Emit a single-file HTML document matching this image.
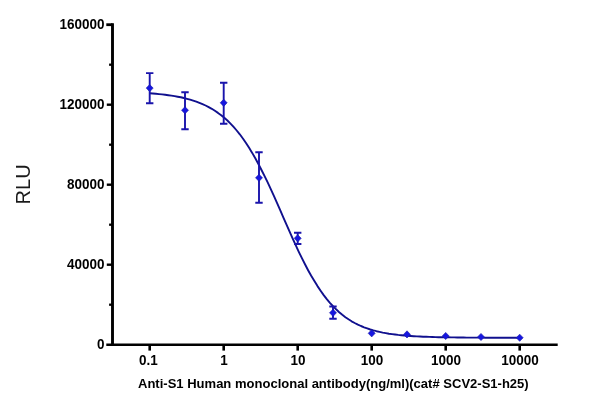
<!DOCTYPE html>
<html><head><meta charset="utf-8"><title>chart</title>
<style>
html,body{margin:0;padding:0;background:#fff;}
svg{display:block;}
text{font-family:"Liberation Sans",Arial,sans-serif;font-weight:bold;font-size:13.5px;fill:#000;}
</style></head><body>
<svg width="600" height="408" viewBox="0 0 600 408">
<rect width="600" height="408" fill="#fff"/>
<path d="M112.5,23.3 V346.1" stroke="#000" stroke-width="2.9" fill="none"/>
<path d="M106.3,344.8 H557.7" stroke="#000" stroke-width="2.5" fill="none"/>
<text transform="translate(104.6,349.1) scale(1,1.06)" text-anchor="end">0</text>
<path d="M109.1,304.7 H112.5" stroke="#000" stroke-width="2.3"/>
<path d="M106.8,264.7 H112.5" stroke="#000" stroke-width="2.4"/>
<text transform="translate(104.6,269.1) scale(1,1.06)" text-anchor="end">40000</text>
<path d="M109.1,224.7 H112.5" stroke="#000" stroke-width="2.3"/>
<path d="M106.8,184.7 H112.5" stroke="#000" stroke-width="2.4"/>
<text transform="translate(104.6,189.1) scale(1,1.06)" text-anchor="end">80000</text>
<path d="M109.1,144.7 H112.5" stroke="#000" stroke-width="2.3"/>
<path d="M106.8,104.7 H112.5" stroke="#000" stroke-width="2.4"/>
<text transform="translate(104.6,109.1) scale(1,1.06)" text-anchor="end">120000</text>
<path d="M109.1,64.7 H112.5" stroke="#000" stroke-width="2.3"/>
<path d="M106.3,24.7 H112.5" stroke="#000" stroke-width="2.8"/>
<text transform="translate(104.6,29.1) scale(1,1.06)" text-anchor="end">160000</text>
<path d="M149.7,344.7 V350.6" stroke="#000" stroke-width="2.6"/>
<text transform="translate(148.5,365) scale(1,1.06)" text-anchor="middle">0.1</text>
<path d="M223.7,344.7 V350.6" stroke="#000" stroke-width="2.6"/>
<text transform="translate(223.9,365) scale(1,1.06)" text-anchor="middle">1</text>
<path d="M297.7,344.7 V350.6" stroke="#000" stroke-width="2.6"/>
<text transform="translate(297.9,365) scale(1,1.06)" text-anchor="middle">10</text>
<path d="M371.7,344.7 V350.6" stroke="#000" stroke-width="2.6"/>
<text transform="translate(371.9,365) scale(1,1.06)" text-anchor="middle">100</text>
<path d="M445.7,344.7 V350.6" stroke="#000" stroke-width="2.6"/>
<text transform="translate(445.9,365) scale(1,1.06)" text-anchor="middle">1000</text>
<path d="M519.7,344.7 V350.6" stroke="#000" stroke-width="2.6"/>
<text transform="translate(519.9,365) scale(1,1.06)" text-anchor="middle">10000</text>
<text x="138" y="388.1" style="font-size:12px" textLength="390.7" lengthAdjust="spacingAndGlyphs">Anti-S1 Human monoclonal antibody(ng/ml)(cat# SCV2-S1-h25)</text>
<text transform="translate(29.6,204.4) rotate(-90)" style="font-size:20px;font-weight:normal;fill:#1a1a1a">RLU</text>
<path d="M149.7,93.3 L152.8,93.5 L155.9,93.8 L159.0,94.1 L162.1,94.4 L165.2,94.8 L168.3,95.2 L171.4,95.6 L174.6,96.1 L177.7,96.7 L180.8,97.3 L183.9,98.0 L187.0,98.8 L190.1,99.6 L193.2,100.6 L196.3,101.6 L199.4,102.8 L202.5,104.1 L205.6,105.5 L208.7,107.1 L211.8,108.8 L214.9,110.8 L218.0,112.9 L221.2,115.2 L224.3,117.8 L227.4,120.5 L230.5,123.6 L233.6,126.9 L236.7,130.5 L239.8,134.3 L242.9,138.5 L246.0,143.0 L249.1,147.8 L252.2,152.9 L255.3,158.3 L258.4,164.0 L261.5,170.0 L264.6,176.2 L267.8,182.7 L270.9,189.3 L274.0,196.2 L277.1,203.2 L280.2,210.2 L283.3,217.3 L286.4,224.4 L289.5,231.4 L292.6,238.4 L295.7,245.2 L298.8,251.8 L301.9,258.2 L305.0,264.3 L308.1,270.2 L311.2,275.8 L314.4,281.1 L317.5,286.1 L320.6,290.7 L323.7,295.1 L326.8,299.1 L329.9,302.8 L333.0,306.2 L336.1,309.3 L339.2,312.2 L342.3,314.8 L345.4,317.2 L348.5,319.3 L351.6,321.3 L354.7,323.0 L357.9,324.6 L361.0,326.0 L364.1,327.3 L367.2,328.4 L370.3,329.5 L373.4,330.4 L376.5,331.2 L379.6,331.9 L382.7,332.6 L385.8,333.1 L388.9,333.7 L392.0,334.1 L395.1,334.5 L398.2,334.9 L401.3,335.2 L404.5,335.5 L407.6,335.8 L410.7,336.0 L413.8,336.2 L416.9,336.4 L420.0,336.5 L423.1,336.7 L426.2,336.8 L429.3,336.9 L432.4,337.0 L435.5,337.1 L438.6,337.2 L441.7,337.2 L444.8,337.3 L447.9,337.3 L451.1,337.4 L454.2,337.4 L457.3,337.5 L460.4,337.5 L463.5,337.5 L466.6,337.6 L469.7,337.6 L472.8,337.6 L475.9,337.6 L479.0,337.6 L482.1,337.6 L485.2,337.7 L488.3,337.7 L491.4,337.7 L494.5,337.7 L497.7,337.7 L500.8,337.7 L503.9,337.7 L507.0,337.7 L510.1,337.7 L513.2,337.7 L516.3,337.7 L519.4,337.7" stroke="#10108e" stroke-width="1.9" fill="none" stroke-linejoin="round"/>
<path d="M149.7,73.1 V103.2 M146.0,73.1 H153.4 M146.0,103.2 H153.4" stroke="#1a14ac" stroke-width="1.9" fill="none"/>
<path d="M149.7,84.50 L153.2,88.1 L149.7,91.70 L146.2,88.1 Z" fill="#1616e0" stroke="#1a1aa8" stroke-width="0.6" stroke-linejoin="miter"/>
<path d="M185.0,92.2 V129.3 M181.3,92.2 H188.7 M181.3,129.3 H188.7" stroke="#1a14ac" stroke-width="1.9" fill="none"/>
<path d="M185.0,106.65 L188.5,110.25 L185.0,113.85 L181.5,110.25 Z" fill="#1616e0" stroke="#1a1aa8" stroke-width="0.6" stroke-linejoin="miter"/>
<path d="M223.7,82.7 V123.7 M220.0,82.7 H227.4 M220.0,123.7 H227.4" stroke="#1a14ac" stroke-width="1.9" fill="none"/>
<path d="M223.7,99.20 L227.2,102.8 L223.7,106.40 L220.2,102.8 Z" fill="#1616e0" stroke="#1a1aa8" stroke-width="0.6" stroke-linejoin="miter"/>
<path d="M259.0,152.2 V202.8 M255.3,152.2 H262.7 M255.3,202.8 H262.7" stroke="#1a14ac" stroke-width="1.9" fill="none"/>
<path d="M259.0,174.20 L262.5,177.8 L259.0,181.40 L255.5,177.8 Z" fill="#1616e0" stroke="#1a1aa8" stroke-width="0.6" stroke-linejoin="miter"/>
<path d="M297.7,232.7 V244 M294.0,232.7 H301.4 M294.0,244 H301.4" stroke="#1a14ac" stroke-width="1.9" fill="none"/>
<path d="M297.7,234.70 L301.2,238.3 L297.7,241.90 L294.2,238.3 Z" fill="#1616e0" stroke="#1a1aa8" stroke-width="0.6" stroke-linejoin="miter"/>
<path d="M333.0,306.5 V318.8 M329.3,306.5 H336.7 M329.3,318.8 H336.7" stroke="#1a14ac" stroke-width="1.9" fill="none"/>
<path d="M333.0,309.20 L336.5,312.8 L333.0,316.40 L329.5,312.8 Z" fill="#1616e0" stroke="#1a1aa8" stroke-width="0.6" stroke-linejoin="miter"/>
<path d="M371.7,329.70 L375.2,333.3 L371.7,336.90 L368.2,333.3 Z" fill="#1616e0" stroke="#1a1aa8" stroke-width="0.6" stroke-linejoin="miter"/>
<path d="M407.0,330.80 L410.5,334.4 L407.0,338.00 L403.5,334.4 Z" fill="#1616e0" stroke="#1a1aa8" stroke-width="0.6" stroke-linejoin="miter"/>
<path d="M445.7,332.40 L449.2,336 L445.7,339.60 L442.2,336 Z" fill="#1616e0" stroke="#1a1aa8" stroke-width="0.6" stroke-linejoin="miter"/>
<path d="M481.0,333.40 L484.5,337 L481.0,340.60 L477.5,337 Z" fill="#1616e0" stroke="#1a1aa8" stroke-width="0.6" stroke-linejoin="miter"/>
<path d="M519.7,334.15 L523.2,337.75 L519.7,341.35 L516.2,337.75 Z" fill="#1616e0" stroke="#1a1aa8" stroke-width="0.6" stroke-linejoin="miter"/>
</svg>
</body></html>
